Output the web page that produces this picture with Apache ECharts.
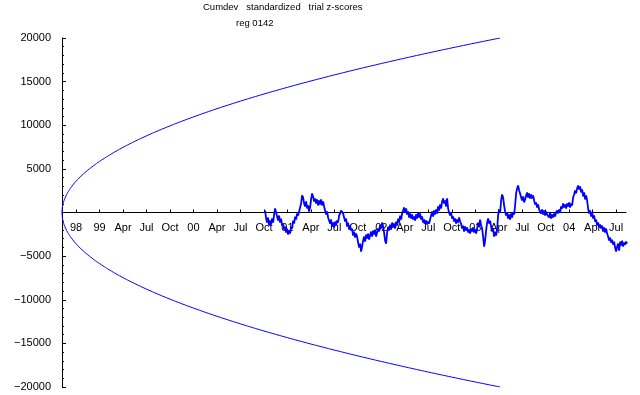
<!DOCTYPE html>
<html>
<head>
<meta charset="utf-8">
<script src="https://cdn.jsdelivr.net/npm/echarts@6/dist/echarts.min.js"></script>
<style>html,body{margin:0;padding:0;background:#fff}#c{width:640px;height:395px}</style>
</head>
<body>
<div id="c"></div>
<script>
// x unit: quarters, 0 = tick labelled "98"
var tickLabels = ["98","99","Apr","Jul","Oct","00","Apr","Jul","Oct","01","Apr","Jul","Oct","02","Apr","Jul","Oct","03","Apr","Jul","Oct","04","Apr","Jul"];
var yTicks = [-20000,-15000,-10000,-5000,0,5000,10000,15000,20000];

// probability envelope
var envX = [-0.6,-0.59,-0.58,-0.55,-0.5,-0.4,-0.3,-0.2,0,0.25,0.5,0.75,1,1.5,2,2.5,3,3.5,4,4.5,5,5.5,6,6.5,7,7.5,8,8.5,9,9.5,10,10.5,11,11.5,12,12.5,13,13.5,14,14.5,15,15.5,16,16.5,17,17.5,18.06];
var envUpper = [0,463,655,1035,1464,2071,2536,2928,3586,4269,4856,5380,5856,6709,7466,8152,8785,9375,9930,10456,10956,11435,11895,12337,12764,13177,13578,13966,14345,14714,15074,15425,15769,16105,16435,16758,17074,17385,17691,17991,18287,18577,18864,19146,19424,19697,20000];
var envLower = [0,-463,-655,-1035,-1464,-2071,-2536,-2928,-3586,-4269,-4856,-5380,-5856,-6709,-7466,-8152,-8785,-9375,-9930,-10456,-10956,-11435,-11895,-12337,-12764,-13177,-13578,-13966,-14345,-14714,-15074,-15425,-15769,-16105,-16435,-16758,-17074,-17385,-17691,-17991,-18287,-18577,-18864,-19146,-19424,-19697,-20000];

// cumulative deviation series, evenly sampled
var cumStart = 8.05;      // quarter of first sample
var cumStep = 0.04259;    // quarters per sample
var cumdev = [
230,-690,-1150,-575,-1495,-920,-1380,-690,-1150,-230,460,0,-460,-920,-345,-1150,-690,-1495,-1265,-1955,
-1610,-2300,-1840,-2530,-2070,-2415,-1610,-1840,-920,-1265,-460,-805,-115,-345,115,230,1035,1955,1725,1035,
690,1265,460,805,115,575,1495,2185,1840,1265,1610,1035,1495,805,1380,920,1495,805,1265,690,
230,-230,115,-575,-920,-1265,-805,-1610,-1150,-1725,-1035,-1495,-920,-1150,-345,-115,230,345,-115,-575,
-1035,-690,-1610,-1150,-1955,-1495,-2070,-1840,-2645,-2185,-2875,-2415,-2760,-3450,-4025,-3565,-4485,-3910,-3220,-2760,
-3335,-2530,-2990,-2415,-3105,-2645,-2185,-2760,-2070,-2530,-1955,-2760,-2300,-1840,-2185,-1380,-1840,-1150,-1610,-2300,
-3220,-3565,-2300,-1610,-2070,-1380,-1955,-1150,-1725,-1265,-1840,-1035,-1495,-690,-1150,-345,-805,-115,230,575,
0,460,-230,115,-575,-115,-690,-230,-805,-460,-920,-230,-690,0,-575,-115,-805,-460,-1150,-805,
-1265,-920,-1380,-1035,-1265,-805,-345,115,-460,230,-230,345,-115,690,230,920,460,1265,1610,1035,
1380,690,1610,460,0,-345,0,-690,-460,-1035,-690,-1265,-805,-1150,-575,-1035,-1265,-1840,-1495,-2185,
-1610,-2070,-1725,-2300,-1955,-2415,-1840,-2185,-1725,-2300,-1955,-2415,-1840,-1150,-1610,-805,-1495,-1840,-2760,-3910,
-3220,-2070,-1150,-690,-1265,-920,-1610,-2185,-1840,-2760,-2185,-2645,-1955,-345,345,0,1380,2070,1725,805,
115,-345,0,-690,-230,-805,-115,-575,0,-230,805,2185,2760,3105,2530,2185,1725,1380,1840,1150,
1495,1955,2300,1725,2185,1610,2070,1610,1955,1380,920,1150,575,920,345,460,-115,345,-230,230,
-345,115,-230,-115,-575,0,-690,-230,-575,-115,-460,0,230,-115,345,0,690,460,1035,575,
920,460,1035,690,1150,575,1035,805,1725,2070,2530,2185,2760,3105,2645,2990,2300,2645,1840,2300,
1495,1955,1380,460,-115,230,-460,0,-690,-345,-1035,-805,-1495,-1150,-1725,-1380,-1840,-1495,-2185,-1725,
-2300,-1840,-2415,-2760,-3220,-2875,-3450,-3105,-3680,-3335,-4025,-4485,-3910,-3565,-4370,-3335,-3795,-3220,-3910,-3450,
-3680,-3335,-3565
];

var envUpperData = envX.map(function(x,i){return [x, envUpper[i]];});
var envLowerData = envX.map(function(x,i){return [x, envLower[i]];});
var cumData = cumdev.map(function(v,i){return [cumStart + i*cumStep, v];});
var tickPos = tickLabels.map(function(_,i){return i;});

var gridTop = 38, gridBottom = 8, H = 395;
var zeroOffset = -((H - gridTop - gridBottom) / 2);

var font = 'Liberation Sans, Arial, sans-serif';
var chart = echarts.init(document.getElementById('c'), null, {renderer:'canvas'});
chart.setOption({
  animation: false,
  backgroundColor: '#ffffff',
  title: [
    {text: 'Cumdev   standardized   trial z-scores', left: 203, top: 2, padding: 0, textStyle:{fontSize:9.5, fontWeight:'normal', color:'#000', fontFamily: font}},
    {text: 'reg 0142', left: 236, top: 18, padding: 0, textStyle:{fontSize:9.5, fontWeight:'normal', color:'#000', fontFamily: font}}
  ],
  grid: {left: 62, right: 14, top: gridTop, bottom: gridBottom, containLabel: false, outerBoundsMode: 'none'},
  xAxis: {
    type: 'value', min: -0.6, max: 23.42, position: 'bottom', offset: zeroOffset,
    splitLine: {show:false},
    axisLine: {show:true, onZero:false, lineStyle:{color:'#000', width:1}},
    axisTick: {show:true, inside:true, length:3, customValues: tickPos, lineStyle:{color:'#000'}},
    axisLabel: {show:true, customValues: tickPos, margin: 10, fontSize: 11, color:'#000', fontFamily: font,
      formatter: function(v){ return tickLabels[Math.round(v)] || ''; }}
  },
  yAxis: {
    type: 'value', min: -20000, max: 20000, interval: 5000,
    splitLine: {show:false},
    axisLine: {show:true, onZero:false, lineStyle:{color:'#000', width:1}},
    axisTick: {show:true, inside:true, length:4, customValues: yTicks, lineStyle:{color:'#000'}},
    minorTick: {show:true, splitNumber:5, length:2, lineStyle:{color:'#000'}},
    axisLabel: {show:true, margin: 11, fontSize: 11, color:'#000', fontFamily: font,
      customValues: yTicks,
      formatter: function(v){ if (v === 0) return ''; return v < 0 ? '\u2212' + Math.abs(v) : String(v); }}
  },
  series: [
    {type:'line', data: envUpperData, showSymbol:false, smooth:0.5, lineStyle:{color:'#0000ff', width:1}, silent:true},
    {type:'line', data: envLowerData, showSymbol:false, smooth:0.5, lineStyle:{color:'#0000ff', width:1}, silent:true},
    {type:'line', data: cumData, showSymbol:false, lineStyle:{color:'#0000ff', width:1.8}, silent:true}
  ]
});
</script>
</body>
</html>
